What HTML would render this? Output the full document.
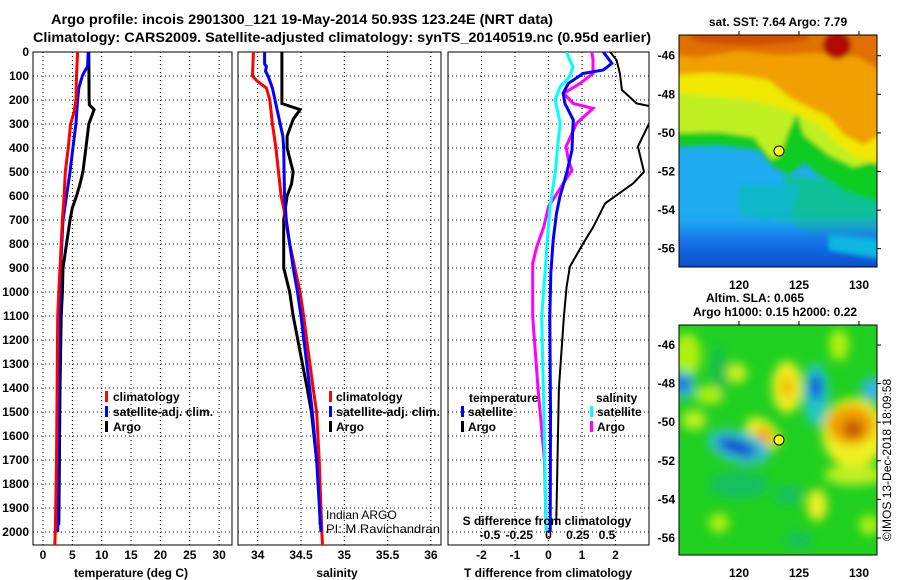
<!DOCTYPE html>
<html><head><meta charset="utf-8">
<style>
html,body{margin:0;padding:0;background:#fff;}
svg{display:block;font-family:"Liberation Sans",Arial,sans-serif;}
.b{font-weight:bold;font-size:12px;}
</style></head>
<body>
<svg id="root" width="900" height="580" viewBox="0 0 900 580" xmlns="http://www.w3.org/2000/svg">
<defs>
<clipPath id="c1"><rect x="33" y="52" width="199" height="493"/></clipPath>
<clipPath id="c2"><rect x="238" y="52" width="203" height="493"/></clipPath>
<clipPath id="c3"><rect x="448" y="52" width="201" height="493"/></clipPath>
<clipPath id="cm1"><rect x="0" y="0" width="198" height="232"/></clipPath>
<clipPath id="cm2"><rect x="0" y="0" width="198" height="230"/></clipPath>
<filter id="bl" x="-10%" y="-10%" width="120%" height="120%"><feGaussianBlur stdDeviation="2.5"/></filter>
<filter id="bl2" x="-30%" y="-30%" width="160%" height="160%"><feGaussianBlur stdDeviation="5"/></filter>
<linearGradient id="blueg" x1="0" y1="0" x2="0" y2="1"><stop offset="0" stop-color="#18a8f0" stop-opacity="0"/><stop offset="0.35" stop-color="#1478ea"/><stop offset="1" stop-color="#0838c0"/></linearGradient>
</defs>
<text x="302" y="24" text-anchor="middle" font-size="14" font-weight="bold" textLength="502" lengthAdjust="spacingAndGlyphs">Argo profile: incois 2901300_121 19-May-2014 50.93S 123.24E (NRT data)</text>
<text x="342" y="42" text-anchor="middle" font-size="14" font-weight="bold" textLength="618" lengthAdjust="spacingAndGlyphs">Climatology: CARS2009. Satellite-adjusted climatology: synTS_20140519.nc (0.95d earlier)</text>
<g id="grids"></g>
<g id="series"></g>
<g id="labels" class="b"></g>

<g class="b">
<rect x="105" y="391" width="3" height="11" fill="#f00"/><text x="113" y="401">climatology</text>
<rect x="105" y="406" width="3" height="11" fill="#00f"/><text x="113" y="416">satellite-adj. clim.</text>
<rect x="105" y="421" width="3" height="11" fill="#000"/><text x="113" y="431">Argo</text>
</g>
<g class="b">
<rect x="329" y="391" width="3" height="11" fill="#f00"/><text x="336" y="401">climatology</text>
<rect x="329" y="406" width="3" height="11" fill="#00f"/><text x="336" y="416" textLength="104" lengthAdjust="spacingAndGlyphs">satellite-adj. clim.</text>
<rect x="329" y="421" width="3" height="11" fill="#000"/><text x="336" y="431">Argo</text>
</g>
<g class="b">
<text x="469" y="402">temperature</text>
<rect x="461" y="406" width="3" height="11" fill="#00f"/><text x="468" y="416">satellite</text>
<rect x="461" y="421" width="3" height="11" fill="#000"/><text x="468" y="431">Argo</text>
<text x="596" y="402">salinity</text>
<rect x="590" y="406" width="3" height="11" fill="#0ff"/><text x="597" y="416">satellite</text>
<rect x="590" y="421" width="3" height="11" fill="#f0f"/><text x="597" y="431">Argo</text>
</g>
<text x="326" y="519" font-size="12">Indian ARGO</text>
<text x="326" y="533" font-size="12" textLength="114" lengthAdjust="spacingAndGlyphs">PI: M Ravichandran</text>
<text x="547" y="525" text-anchor="middle" class="b">S difference from climatology</text>

<text x="778" y="26" text-anchor="middle" class="b">sat. SST: 7.64 Argo: 7.79</text>
<g transform="translate(679,35)">
<g clip-path="url(#cm1)">
<rect x="0" y="0" width="198" height="232" fill="#20acf0"/>
<g filter="url(#bl)">
<polygon points="105,140 198,150 198,225 150,215 110,185" fill="#10c098"/>
<polygon points="60,150 120,150 110,190 60,180" fill="#10b8c8"/>
<rect x="-10" y="178" width="220" height="70" fill="url(#blueg)"/>
<polygon points="150,200 210,205 210,225 150,215" fill="#10b8e0"/>
<polygon points="-10,-10 208,-10 208,170 170,158 140,140 125,128 110,140 95,132 80,115 40,110 -10,112" fill="#10cc20"/>
<polygon points="-10,-10 208,-10 208,122 175,132 150,120 125,100 118,78 110,95 100,122 92,124 75,102 40,97 -10,98" fill="#c0f020"/>
<polygon points="-10,-10 208,-10 208,130 180,125 160,110 140,90 120,80 100,72 70,65 40,62 -10,58" fill="#f0e800"/>
<polygon points="-10,-10 208,-10 208,95 185,110 165,100 150,82 125,70 110,62 90,45 60,40 30,38 -10,40" fill="#f0a000"/>
<polygon points="-10,-10 208,-10 208,40 180,22 140,18 100,20 60,16 20,22 -10,20" fill="#e07000"/>
<ellipse cx="158" cy="10" rx="14" ry="14" fill="#b01000"/>
<ellipse cx="70" cy="2" rx="60" ry="8" fill="#d05000"/>
</g>
</g>
<rect x="0" y="0" width="198" height="232" fill="none" stroke="#000"/>
<circle cx="100" cy="116" r="5" fill="#ff0" stroke="#000"/>
</g>
<g id="map1ax" class="b"></g>

<text x="755" y="302" text-anchor="middle" class="b">Altim. SLA: 0.065</text>
<text x="775" y="316" text-anchor="middle" class="b">Argo h1000: 0.15 h2000: 0.22</text>
<g transform="translate(679,325)">
<g clip-path="url(#cm2)">
<rect x="0" y="0" width="198" height="230" fill="#20d020"/>
<g filter="url(#bl2)">
<ellipse cx="8" cy="30" rx="14" ry="22" fill="#b0f010"/>
<ellipse cx="40" cy="50" rx="8" ry="30" fill="#18c050"/>
<ellipse cx="108" cy="62" rx="15" ry="26" fill="#f0f020"/>
<ellipse cx="108" cy="62" rx="7" ry="12" fill="#f0c000"/>
<ellipse cx="58" cy="48" rx="10" ry="10" fill="#d0f020"/>
<ellipse cx="137" cy="70" rx="13" ry="32" fill="#20c8c0"/>
<ellipse cx="137" cy="62" rx="6" ry="13" fill="#1040e0"/>
<ellipse cx="4" cy="60" rx="12" ry="14" fill="#30c0d0"/>
<ellipse cx="4" cy="59" rx="6" ry="8" fill="#1050e8"/>
<ellipse cx="194" cy="64" rx="12" ry="12" fill="#30b8e0"/>
<ellipse cx="175" cy="108" rx="32" ry="35" fill="#f0f020"/>
<ellipse cx="172" cy="100" rx="24" ry="20" fill="#f0a000"/>
<ellipse cx="174" cy="104" rx="10" ry="9" fill="#c05000"/>
<ellipse cx="175" cy="150" rx="30" ry="10" fill="#c0f020"/>
<ellipse cx="84" cy="108" rx="20" ry="12" transform="rotate(40 84 108)" fill="#f0f020"/>
<ellipse cx="86" cy="110" rx="11" ry="6" transform="rotate(40 86 110)" fill="#f0a000"/>
<ellipse cx="60" cy="122" rx="32" ry="16" transform="rotate(15 60 122)" fill="#30c0d0"/>
<ellipse cx="58" cy="122" rx="20" ry="7" transform="rotate(18 58 122)" fill="#1040d0"/>
<ellipse cx="30" cy="70" rx="14" ry="9" fill="#b0f010"/>
<ellipse cx="15" cy="95" rx="12" ry="10" fill="#c0f020"/>
<ellipse cx="138" cy="180" rx="10" ry="16" fill="#f0f020"/>
<ellipse cx="60" cy="160" rx="30" ry="14" fill="#18c060"/>
<ellipse cx="110" cy="170" rx="14" ry="10" fill="#18c060"/>
<ellipse cx="40" cy="198" rx="10" ry="10" fill="#b0f010"/>
<ellipse cx="160" cy="20" rx="10" ry="16" fill="#b0f010"/>
<ellipse cx="190" cy="200" rx="10" ry="10" fill="#b0f010"/>
<ellipse cx="120" cy="215" rx="14" ry="8" fill="#18c060"/>
</g>
</g>
<rect x="0" y="0" width="198" height="230" fill="none" stroke="#000"/>
<circle cx="100" cy="115" r="5" fill="#ff0" stroke="#000"/>
</g>
<g id="map2ax" class="b"></g>
<text transform="translate(891,460) rotate(-90)" text-anchor="middle" font-size="12">©IMOS 13-Dec-2018 18:09:58</text>
</svg>

<script>
const depthTicks = [0,100,200,300,400,500,600,700,800,900,1000,1100,1200,1300,1400,1500,1600,1700,1800,1900,2000];
const tempTicks = [0,5,10,15,20,25,30];
const salTicks = [34,34.5,35,35.5,36];
const salTickLabels = ["34","34.5","35","35.5","36"];
const tdiffTicks = [-2,-1,0,1,2];
const sdiffTicks = [-0.5,-0.25,0,0.25,0.5];
const sdiffTickLabels = ["-0.5","-0.25","0","0.25","0.5"];

const tClimDepth = [0,100,200,250,300,400,500,600,700,800,900,1000,1100,1400,1700,2000,2060];
const tClim      = [5.9,5.7,5.6,5.3,4.7,4.3,3.8,3.6,3.3,3.1,2.9,2.7,2.5,2.4,2.3,2.1,2.0];
const tSatDepth  = [0,60,80,100,150,200,300,400,500,600,700,800,900,1000,1100,1400,1700,2000];
const tSat       = [7.7,7.6,7.1,6.7,6.1,5.9,5.6,5.1,4.6,4.0,3.4,3.2,3.0,2.9,2.8,2.7,2.6,2.5];
const tArgoDepth = [0,200,220,240,300,400,500,550,600,650,700,800,900,1000,1100,1400,1700,1970];
const tArgo      = [7.8,7.85,7.9,8.7,7.8,7.3,6.8,6.3,5.7,5.0,4.6,4.0,3.4,3.3,3.1,2.9,2.8,2.7];

const sClimDepth = [0,100,120,150,200,300,400,500,600,650,800,1000,1100,1400,1500,1700,2000,2060];
const sClim      = [33.95,33.94,33.99,34.10,34.14,34.17,34.21,34.24,34.27,34.30,34.37,34.49,34.53,34.64,34.68,34.71,34.74,34.75];
const sSatDepth  = [0,50,60,80,100,150,200,300,350,400,600,700,800,900,1000,1100,1400,1500,1700,2000];
const sSat       = [34.08,34.08,34.10,34.09,34.12,34.17,34.20,34.26,34.29,34.30,34.31,34.33,34.37,34.41,34.46,34.50,34.60,34.63,34.68,34.73];
const sArgoDepth = [0,215,240,280,350,400,500,550,600,650,700,900,1000,1100,1400,1500,1700,1800,1970];
const sArgo      = [34.28,34.28,34.49,34.41,34.34,34.34,34.41,34.39,34.34,34.32,34.30,34.30,34.37,34.41,34.57,34.62,34.68,34.71,34.72];

const dTSatDepth  = [0,47,75,89,131,172,214,283,339,408,506,603,672,783,922,1103,1500,2000];
const dTSat       = [1.64,1.89,1.64,1.04,0.59,0.44,0.49,0.74,0.72,0.70,0.54,0.34,0.24,0.14,0.07,0.04,0.06,0.05];
const dTArgoDepth = [0,33,89,158,214,228,269,394,499,547,631,728,797,894,978,1103,1400,1700,1970];
const dTArgo      = [1.84,2.03,2.13,2.19,2.63,3.1,3.1,2.67,2.85,2.53,1.69,1.34,1.04,0.64,0.54,0.46,0.31,0.27,0.23];
const dSSatDepth  = [0,33,61,103,144,200,297,367,506,644,783,922,1103,1500,2000];
const dSSat       = [0.155,0.18,0.21,0.18,0.10,0.056,0.10,0.084,0.056,0.013,-0.01,-0.03,-0.058,-0.04,-0.02];
const dSArgoDepth = [0,33,89,131,172,214,235,297,394,450,492,644,728,811,881,1103,1400,1700,2000];
const dSArgo      = [0.37,0.38,0.38,0.27,0.13,0.21,0.38,0.24,0.15,0.17,0.20,0.0,-0.04,-0.10,-0.135,-0.135,-0.09,-0.035,-0.02];

const NS='http://www.w3.org/2000/svg';
const yD = d => 52 + 0.24*d;
const xT = v => 43 + 5.87*v;
const xS = v => 257.7 + 86.6*(v-34);
const xDT = v => 548.5 + 33.5*v;
const xDS = v => 548.5 + 117*v;
const panels = [{x0:33,x1:232,clip:'c1'},{x0:238,x1:441,clip:'c2'},{x0:448,x1:649,clip:'c3'}];

function mk(tag, attrs, parent){const e=document.createElementNS(NS,tag);for(const k in attrs)e.setAttribute(k,attrs[k]);parent.appendChild(e);return e;}
const G=document.getElementById('grids'), S=document.getElementById('series'), L=document.getElementById('labels');

const vgrid=[tempTicks.map(xT), salTicks.map(xS), tdiffTicks.map(xDT)];
panels.forEach((p,i)=>{
  depthTicks.slice(1).forEach(d=>{
    const l=mk('line',{x1:p.x0,x2:p.x1,y1:yD(d),y2:yD(d),stroke:'#000','stroke-dasharray':'1,3','stroke-width':1},G);
    
    
  });
  vgrid[i].forEach(x=>{
    const l=mk('line',{x1:x,x2:x,y1:52,y2:545,stroke:'#000','stroke-dasharray':'1,3','stroke-width':1},G);
    
    
  });
  const r=mk('rect',{x:p.x0,y:52,width:p.x1-p.x0,height:493,fill:'none',stroke:'#000','stroke-width':1},G);
  
  
});

depthTicks.forEach(d=>{
  const t=mk('text',{x:29,y:yD(d)+4,'text-anchor':'end'},L);t.textContent=d;
  
  
});
tempTicks.forEach(v=>{const t=mk('text',{x:xT(v),y:559,'text-anchor':'middle'},L);t.textContent=v;
  
  });
salTicks.forEach((v,i)=>{const t=mk('text',{x:xS(v),y:559,'text-anchor':'middle'},L);t.textContent=salTickLabels[i];
  
  });
tdiffTicks.forEach(v=>{const t=mk('text',{x:xDT(v),y:559,'text-anchor':'middle'},L);t.textContent=v;
  
  });
sdiffTicks.forEach((v,i)=>{const t=mk('text',{x:xDS(v),y:539,'text-anchor':'middle'},L);t.textContent=sdiffTickLabels[i];
  
  });
[['temperature (deg C)',131,'temperature-axis-title'],['salinity',337,'salinity-axis-title'],['T difference from climatology',548,'t-diff-axis-title']].forEach(a=>{
  const t=mk('text',{x:a[1],y:577,'text-anchor':'middle'},L);t.textContent=a[0];
  
  
});

function series(depths, vals, xf, color, w, clip, name){
  const pts=depths.map((d,i)=>xf(vals[i]).toFixed(1)+','+yD(d).toFixed(1)).join(' ');
  const p=mk('polyline',{points:pts,fill:'none',stroke:color,'stroke-width':w,'stroke-linejoin':'miter','clip-path':'url(#'+clip+')'},S);
  
  
}
series(tArgoDepth,tArgo,xT,'#000',3,'c1','temperature-argo-line');
series(tSatDepth,tSat,xT,'#00f',3,'c1','temperature-satellite-line');
series(tClimDepth,tClim,xT,'#f00',3,'c1','temperature-climatology-line');
series(sArgoDepth,sArgo,xS,'#000',3,'c2','salinity-argo-line');
series(sClimDepth,sClim,xS,'#f00',3,'c2','salinity-climatology-line');
series(sSatDepth,sSat,xS,'#00f',3,'c2','salinity-satellite-line');
series(dTArgoDepth,dTArgo,xDT,'#000',2,'c3','t-diff-argo-line');
series(dSArgoDepth,dSArgo,xDS,'#f0f',3,'c3','s-diff-argo-line');
series(dSSatDepth,dSSat,xDS,'#0ff',3,'c3','s-diff-satellite-line');
series(dTSatDepth,dTSat,xDT,'#00f',3,'c3','t-diff-satellite-line');

const latTicks=[-46,-48,-50,-52,-54,-56];
const lonTicks=[120,125,130];
function mapAxes(gid, top, lat46y, bottom){
  const g=document.getElementById(gid);
  latTicks.forEach(v=>{
    const y=lat46y+(-46-v)*19.3;
    const t=mk('text',{x:675,y:y+4,'text-anchor':'end'},g);t.textContent=v;
    
    
    mk('line',{x1:877,x2:881,y1:y,y2:y,stroke:'#000'},g);
  });
  lonTicks.forEach(v=>{
    const x=739+(v-120)*12;
    const t=mk('text',{x:x,y:bottom+22,'text-anchor':'middle'},g);t.textContent=v;
    
    
    mk('line',{x1:x,x2:x,y1:top-4,y2:top,stroke:'#000'},g);
  });
}
mapAxes('map1ax',35,55.7,267);
mapAxes('map2ax',325,345,555);
</script>
</body></html>
